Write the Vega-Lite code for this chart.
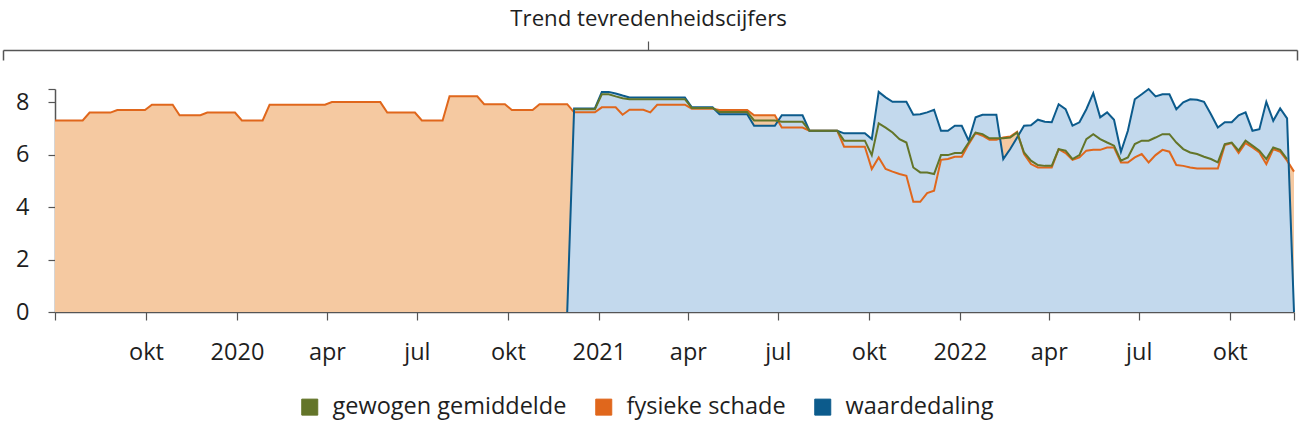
{
  "$schema": "https://vega.github.io/schema/vega-lite/v6.json",
  "padding": {"left": 2, "right": 3, "top": 7, "bottom": 2},
  "autosize": {"type": "pad"},
  "title": {"text": "Trend tevredenheidscijfers", "anchor": "middle", "dx": -27, "font": "Open Sans", "fontSize": 22.2, "fontWeight": "normal", "color": "#1e1e1e", "offset": 11},
  "columns": 1,
  "spacing": 24,
  "resolve": {"scale": {"color": "shared"}},
  "datasets": {
    "scores": [
      {"week": "2019-07-01", "fysieke schade": 7.3},
      {"week": "2019-07-08", "fysieke schade": 7.3},
      {"week": "2019-07-15", "fysieke schade": 7.3},
      {"week": "2019-07-22", "fysieke schade": 7.3},
      {"week": "2019-07-29", "fysieke schade": 7.3},
      {"week": "2019-08-05", "fysieke schade": 7.6},
      {"week": "2019-08-12", "fysieke schade": 7.6},
      {"week": "2019-08-19", "fysieke schade": 7.6},
      {"week": "2019-08-26", "fysieke schade": 7.6},
      {"week": "2019-09-02", "fysieke schade": 7.7},
      {"week": "2019-09-09", "fysieke schade": 7.7},
      {"week": "2019-09-16", "fysieke schade": 7.7},
      {"week": "2019-09-23", "fysieke schade": 7.7},
      {"week": "2019-09-30", "fysieke schade": 7.7},
      {"week": "2019-10-07", "fysieke schade": 7.9},
      {"week": "2019-10-14", "fysieke schade": 7.9},
      {"week": "2019-10-21", "fysieke schade": 7.9},
      {"week": "2019-10-28", "fysieke schade": 7.9},
      {"week": "2019-11-04", "fysieke schade": 7.5},
      {"week": "2019-11-11", "fysieke schade": 7.5},
      {"week": "2019-11-18", "fysieke schade": 7.5},
      {"week": "2019-11-25", "fysieke schade": 7.5},
      {"week": "2019-12-02", "fysieke schade": 7.6},
      {"week": "2019-12-09", "fysieke schade": 7.6},
      {"week": "2019-12-16", "fysieke schade": 7.6},
      {"week": "2019-12-23", "fysieke schade": 7.6},
      {"week": "2019-12-30", "fysieke schade": 7.6},
      {"week": "2020-01-06", "fysieke schade": 7.3},
      {"week": "2020-01-13", "fysieke schade": 7.3},
      {"week": "2020-01-20", "fysieke schade": 7.3},
      {"week": "2020-01-27", "fysieke schade": 7.3},
      {"week": "2020-02-03", "fysieke schade": 7.9},
      {"week": "2020-02-10", "fysieke schade": 7.9},
      {"week": "2020-02-17", "fysieke schade": 7.9},
      {"week": "2020-02-24", "fysieke schade": 7.9},
      {"week": "2020-03-02", "fysieke schade": 7.9},
      {"week": "2020-03-09", "fysieke schade": 7.9},
      {"week": "2020-03-16", "fysieke schade": 7.9},
      {"week": "2020-03-23", "fysieke schade": 7.9},
      {"week": "2020-03-30", "fysieke schade": 7.9},
      {"week": "2020-04-06", "fysieke schade": 8.0},
      {"week": "2020-04-13", "fysieke schade": 8.0},
      {"week": "2020-04-20", "fysieke schade": 8.0},
      {"week": "2020-04-27", "fysieke schade": 8.0},
      {"week": "2020-05-04", "fysieke schade": 8.0},
      {"week": "2020-05-11", "fysieke schade": 8.0},
      {"week": "2020-05-18", "fysieke schade": 8.0},
      {"week": "2020-05-25", "fysieke schade": 8.0},
      {"week": "2020-06-01", "fysieke schade": 7.6},
      {"week": "2020-06-08", "fysieke schade": 7.6},
      {"week": "2020-06-15", "fysieke schade": 7.6},
      {"week": "2020-06-22", "fysieke schade": 7.6},
      {"week": "2020-06-29", "fysieke schade": 7.6},
      {"week": "2020-07-06", "fysieke schade": 7.3},
      {"week": "2020-07-13", "fysieke schade": 7.3},
      {"week": "2020-07-20", "fysieke schade": 7.3},
      {"week": "2020-07-27", "fysieke schade": 7.3},
      {"week": "2020-08-03", "fysieke schade": 8.22},
      {"week": "2020-08-10", "fysieke schade": 8.22},
      {"week": "2020-08-17", "fysieke schade": 8.22},
      {"week": "2020-08-24", "fysieke schade": 8.22},
      {"week": "2020-08-31", "fysieke schade": 8.22},
      {"week": "2020-09-07", "fysieke schade": 7.92},
      {"week": "2020-09-14", "fysieke schade": 7.92},
      {"week": "2020-09-21", "fysieke schade": 7.92},
      {"week": "2020-09-28", "fysieke schade": 7.92},
      {"week": "2020-10-05", "fysieke schade": 7.7},
      {"week": "2020-10-12", "fysieke schade": 7.7},
      {"week": "2020-10-19", "fysieke schade": 7.7},
      {"week": "2020-10-26", "fysieke schade": 7.7},
      {"week": "2020-11-02", "fysieke schade": 7.92},
      {"week": "2020-11-09", "fysieke schade": 7.92},
      {"week": "2020-11-16", "fysieke schade": 7.92},
      {"week": "2020-11-23", "fysieke schade": 7.92},
      {"week": "2020-11-30", "fysieke schade": 7.92, "waardedaling": 0},
      {"week": "2020-12-07", "gewogen gemiddelde": 7.73, "fysieke schade": 7.61, "waardedaling": 7.76},
      {"week": "2020-12-14", "gewogen gemiddelde": 7.73, "fysieke schade": 7.61, "waardedaling": 7.76},
      {"week": "2020-12-21", "gewogen gemiddelde": 7.73, "fysieke schade": 7.61, "waardedaling": 7.76},
      {"week": "2020-12-28", "gewogen gemiddelde": 7.73, "fysieke schade": 7.61, "waardedaling": 7.76},
      {"week": "2021-01-04", "gewogen gemiddelde": 8.3, "fysieke schade": 7.8, "waardedaling": 8.39},
      {"week": "2021-01-11", "gewogen gemiddelde": 8.3, "fysieke schade": 7.8, "waardedaling": 8.39},
      {"week": "2021-01-18", "gewogen gemiddelde": 8.22, "fysieke schade": 7.8, "waardedaling": 8.33},
      {"week": "2021-01-25", "gewogen gemiddelde": 8.15, "fysieke schade": 7.52, "waardedaling": 8.25},
      {"week": "2021-02-01", "gewogen gemiddelde": 8.11, "fysieke schade": 7.71, "waardedaling": 8.18},
      {"week": "2021-02-08", "gewogen gemiddelde": 8.11, "fysieke schade": 7.71, "waardedaling": 8.18},
      {"week": "2021-02-15", "gewogen gemiddelde": 8.11, "fysieke schade": 7.71, "waardedaling": 8.18},
      {"week": "2021-02-22", "gewogen gemiddelde": 8.11, "fysieke schade": 7.61, "waardedaling": 8.18},
      {"week": "2021-03-01", "gewogen gemiddelde": 8.11, "fysieke schade": 7.9, "waardedaling": 8.18},
      {"week": "2021-03-08", "gewogen gemiddelde": 8.11, "fysieke schade": 7.9, "waardedaling": 8.18},
      {"week": "2021-03-15", "gewogen gemiddelde": 8.11, "fysieke schade": 7.9, "waardedaling": 8.18},
      {"week": "2021-03-22", "gewogen gemiddelde": 8.11, "fysieke schade": 7.9, "waardedaling": 8.18},
      {"week": "2021-03-29", "gewogen gemiddelde": 8.11, "fysieke schade": 7.9, "waardedaling": 8.18},
      {"week": "2021-04-05", "gewogen gemiddelde": 7.78, "fysieke schade": 7.75, "waardedaling": 7.8},
      {"week": "2021-04-12", "gewogen gemiddelde": 7.78, "fysieke schade": 7.75, "waardedaling": 7.8},
      {"week": "2021-04-19", "gewogen gemiddelde": 7.78, "fysieke schade": 7.75, "waardedaling": 7.8},
      {"week": "2021-04-26", "gewogen gemiddelde": 7.78, "fysieke schade": 7.75, "waardedaling": 7.8},
      {"week": "2021-05-03", "gewogen gemiddelde": 7.62, "fysieke schade": 7.7, "waardedaling": 7.54},
      {"week": "2021-05-10", "gewogen gemiddelde": 7.62, "fysieke schade": 7.7, "waardedaling": 7.54},
      {"week": "2021-05-17", "gewogen gemiddelde": 7.62, "fysieke schade": 7.7, "waardedaling": 7.54},
      {"week": "2021-05-24", "gewogen gemiddelde": 7.62, "fysieke schade": 7.7, "waardedaling": 7.54},
      {"week": "2021-05-31", "gewogen gemiddelde": 7.62, "fysieke schade": 7.7, "waardedaling": 7.54},
      {"week": "2021-06-07", "gewogen gemiddelde": 7.3, "fysieke schade": 7.5, "waardedaling": 7.1},
      {"week": "2021-06-14", "gewogen gemiddelde": 7.3, "fysieke schade": 7.5, "waardedaling": 7.1},
      {"week": "2021-06-21", "gewogen gemiddelde": 7.3, "fysieke schade": 7.5, "waardedaling": 7.1},
      {"week": "2021-06-28", "gewogen gemiddelde": 7.3, "fysieke schade": 7.5, "waardedaling": 7.1},
      {"week": "2021-07-05", "gewogen gemiddelde": 7.25, "fysieke schade": 7.03, "waardedaling": 7.5},
      {"week": "2021-07-12", "gewogen gemiddelde": 7.25, "fysieke schade": 7.03, "waardedaling": 7.5},
      {"week": "2021-07-19", "gewogen gemiddelde": 7.25, "fysieke schade": 7.03, "waardedaling": 7.5},
      {"week": "2021-07-26", "gewogen gemiddelde": 7.25, "fysieke schade": 7.03, "waardedaling": 7.5},
      {"week": "2021-08-02", "gewogen gemiddelde": 6.91, "fysieke schade": 6.91, "waardedaling": 6.91},
      {"week": "2021-08-09", "gewogen gemiddelde": 6.91, "fysieke schade": 6.91, "waardedaling": 6.91},
      {"week": "2021-08-16", "gewogen gemiddelde": 6.91, "fysieke schade": 6.91, "waardedaling": 6.91},
      {"week": "2021-08-23", "gewogen gemiddelde": 6.91, "fysieke schade": 6.91, "waardedaling": 6.91},
      {"week": "2021-08-30", "gewogen gemiddelde": 6.91, "fysieke schade": 6.91, "waardedaling": 6.91},
      {"week": "2021-09-06", "gewogen gemiddelde": 6.53, "fysieke schade": 6.3, "waardedaling": 6.81},
      {"week": "2021-09-13", "gewogen gemiddelde": 6.53, "fysieke schade": 6.3, "waardedaling": 6.81},
      {"week": "2021-09-20", "gewogen gemiddelde": 6.53, "fysieke schade": 6.3, "waardedaling": 6.81},
      {"week": "2021-09-27", "gewogen gemiddelde": 6.53, "fysieke schade": 6.3, "waardedaling": 6.81},
      {"week": "2021-10-04", "gewogen gemiddelde": 5.98, "fysieke schade": 5.45, "waardedaling": 6.59},
      {"week": "2021-10-11", "gewogen gemiddelde": 7.19, "fysieke schade": 5.89, "waardedaling": 8.39},
      {"week": "2021-10-18", "gewogen gemiddelde": 7.03, "fysieke schade": 5.45, "waardedaling": 8.18},
      {"week": "2021-10-25", "gewogen gemiddelde": 6.84, "fysieke schade": 5.35, "waardedaling": 8.01},
      {"week": "2021-11-01", "gewogen gemiddelde": 6.59, "fysieke schade": 5.26, "waardedaling": 8.01},
      {"week": "2021-11-08", "gewogen gemiddelde": 6.46, "fysieke schade": 5.19, "waardedaling": 8.01},
      {"week": "2021-11-15", "gewogen gemiddelde": 5.51, "fysieke schade": 4.2, "waardedaling": 7.52},
      {"week": "2021-11-22", "gewogen gemiddelde": 5.32, "fysieke schade": 4.2, "waardedaling": 7.54},
      {"week": "2021-11-29", "gewogen gemiddelde": 5.32, "fysieke schade": 4.53, "waardedaling": 7.61},
      {"week": "2021-12-06", "gewogen gemiddelde": 5.26, "fysieke schade": 4.62, "waardedaling": 7.71},
      {"week": "2021-12-13", "gewogen gemiddelde": 5.98, "fysieke schade": 5.8, "waardedaling": 6.91},
      {"week": "2021-12-20", "gewogen gemiddelde": 5.98, "fysieke schade": 5.83, "waardedaling": 6.91},
      {"week": "2021-12-27", "gewogen gemiddelde": 6.06, "fysieke schade": 5.92, "waardedaling": 7.1},
      {"week": "2022-01-03", "gewogen gemiddelde": 6.06, "fysieke schade": 5.92, "waardedaling": 7.1},
      {"week": "2022-01-10", "gewogen gemiddelde": 6.46, "fysieke schade": 6.4, "waardedaling": 6.53},
      {"week": "2022-01-17", "gewogen gemiddelde": 6.84, "fysieke schade": 6.82, "waardedaling": 7.42},
      {"week": "2022-01-24", "gewogen gemiddelde": 6.78, "fysieke schade": 6.72, "waardedaling": 7.52},
      {"week": "2022-01-31", "gewogen gemiddelde": 6.62, "fysieke schade": 6.57, "waardedaling": 7.52},
      {"week": "2022-02-07", "gewogen gemiddelde": 6.62, "fysieke schade": 6.57, "waardedaling": 7.52},
      {"week": "2022-02-14", "gewogen gemiddelde": 6.62, "fysieke schade": 6.65, "waardedaling": 5.83},
      {"week": "2022-02-21", "gewogen gemiddelde": 6.65, "fysieke schade": 6.69, "waardedaling": 6.21},
      {"week": "2022-02-28", "gewogen gemiddelde": 6.84, "fysieke schade": 6.87, "waardedaling": 6.65},
      {"week": "2022-03-07", "gewogen gemiddelde": 6.08, "fysieke schade": 6.02, "waardedaling": 7.1},
      {"week": "2022-03-14", "gewogen gemiddelde": 5.77, "fysieke schade": 5.64, "waardedaling": 7.12},
      {"week": "2022-03-21", "gewogen gemiddelde": 5.6, "fysieke schade": 5.51, "waardedaling": 7.33},
      {"week": "2022-03-28", "gewogen gemiddelde": 5.57, "fysieke schade": 5.51, "waardedaling": 7.25},
      {"week": "2022-04-04", "gewogen gemiddelde": 5.57, "fysieke schade": 5.51, "waardedaling": 7.23},
      {"week": "2022-04-11", "gewogen gemiddelde": 6.21, "fysieke schade": 6.21, "waardedaling": 7.92},
      {"week": "2022-04-18", "gewogen gemiddelde": 6.15, "fysieke schade": 6.06, "waardedaling": 7.73},
      {"week": "2022-04-25", "gewogen gemiddelde": 5.83, "fysieke schade": 5.8, "waardedaling": 7.1},
      {"week": "2022-05-02", "gewogen gemiddelde": 5.98, "fysieke schade": 5.89, "waardedaling": 7.23},
      {"week": "2022-05-09", "gewogen gemiddelde": 6.59, "fysieke schade": 6.15, "waardedaling": 7.73},
      {"week": "2022-05-16", "gewogen gemiddelde": 6.78, "fysieke schade": 6.18, "waardedaling": 8.34},
      {"week": "2022-05-23", "gewogen gemiddelde": 6.59, "fysieke schade": 6.18, "waardedaling": 7.42},
      {"week": "2022-05-30", "gewogen gemiddelde": 6.46, "fysieke schade": 6.27, "waardedaling": 7.61},
      {"week": "2022-06-06", "gewogen gemiddelde": 6.34, "fysieke schade": 6.27, "waardedaling": 7.33},
      {"week": "2022-06-13", "gewogen gemiddelde": 5.77, "fysieke schade": 5.7, "waardedaling": 6.11},
      {"week": "2022-06-20", "gewogen gemiddelde": 5.89, "fysieke schade": 5.7, "waardedaling": 6.91},
      {"week": "2022-06-27", "gewogen gemiddelde": 6.4, "fysieke schade": 5.89, "waardedaling": 8.11},
      {"week": "2022-07-04", "gewogen gemiddelde": 6.53, "fysieke schade": 6.02, "waardedaling": 8.3},
      {"week": "2022-07-11", "gewogen gemiddelde": 6.53, "fysieke schade": 5.7, "waardedaling": 8.5},
      {"week": "2022-07-18", "gewogen gemiddelde": 6.65, "fysieke schade": 5.98, "waardedaling": 8.22},
      {"week": "2022-07-25", "gewogen gemiddelde": 6.78, "fysieke schade": 6.18, "waardedaling": 8.3},
      {"week": "2022-08-01", "gewogen gemiddelde": 6.78, "fysieke schade": 6.11, "waardedaling": 8.3},
      {"week": "2022-08-08", "gewogen gemiddelde": 6.46, "fysieke schade": 5.6, "waardedaling": 7.73},
      {"week": "2022-08-15", "gewogen gemiddelde": 6.21, "fysieke schade": 5.57, "waardedaling": 7.99},
      {"week": "2022-08-22", "gewogen gemiddelde": 6.08, "fysieke schade": 5.51, "waardedaling": 8.11},
      {"week": "2022-08-29", "gewogen gemiddelde": 6.02, "fysieke schade": 5.47, "waardedaling": 8.09},
      {"week": "2022-09-05", "gewogen gemiddelde": 5.92, "fysieke schade": 5.47, "waardedaling": 8.01},
      {"week": "2022-09-12", "gewogen gemiddelde": 5.83, "fysieke schade": 5.47, "waardedaling": 7.54},
      {"week": "2022-09-19", "gewogen gemiddelde": 5.7, "fysieke schade": 5.47, "waardedaling": 7.03},
      {"week": "2022-09-26", "gewogen gemiddelde": 6.4, "fysieke schade": 6.36, "waardedaling": 7.23},
      {"week": "2022-10-03", "gewogen gemiddelde": 6.46, "fysieke schade": 6.44, "waardedaling": 7.23},
      {"week": "2022-10-10", "gewogen gemiddelde": 6.15, "fysieke schade": 6.06, "waardedaling": 7.5},
      {"week": "2022-10-17", "gewogen gemiddelde": 6.53, "fysieke schade": 6.44, "waardedaling": 7.61},
      {"week": "2022-10-24", "gewogen gemiddelde": 6.34, "fysieke schade": 6.27, "waardedaling": 6.91},
      {"week": "2022-10-31", "gewogen gemiddelde": 6.15, "fysieke schade": 6.08, "waardedaling": 6.97},
      {"week": "2022-11-07", "gewogen gemiddelde": 5.83, "fysieke schade": 5.64, "waardedaling": 8.01},
      {"week": "2022-11-14", "gewogen gemiddelde": 6.27, "fysieke schade": 6.21, "waardedaling": 7.29},
      {"week": "2022-11-21", "gewogen gemiddelde": 6.18, "fysieke schade": 6.11, "waardedaling": 7.76},
      {"week": "2022-11-28", "gewogen gemiddelde": 5.83, "fysieke schade": 5.77, "waardedaling": 7.38},
      {"week": "2022-12-05", "fysieke schade": 5.35, "waardedaling": 0}
    ]
  },
  "concat": [
    {
      "width": 1242,
      "height": 9,
      "data": {"values": []},
      "mark": {"type": "point", "opacity": 0},
      "encoding": {
        "x": {
          "field": "p", "type": "quantitative",
          "scale": {"domain": [0, 1], "range": [-52, 1242], "nice": false, "zero": false},
          "axis": {"orient": "bottom", "values": [0, 1], "labels": false, "title": null, "grid": false, "tickSize": 10, "tickWidth": 1.5, "domainWidth": 1.5, "domainColor": "#555555", "tickColor": "#555555"}
        },
        "y": {
          "field": "q", "type": "quantitative",
          "scale": {"domain": [0, 1], "nice": false, "zero": false},
          "axis": {"orient": "left", "offset": -593, "ticks": false, "labels": false, "title": null, "grid": false, "domainWidth": 1.2, "domainColor": "#555555", "minExtent": 0, "maxExtent": 0}
        }
      }
    },
    {
      "width": 1239,
      "height": 223,
      "data": {"name": "scores"},
      "transform": [
        {"fold": ["gewogen gemiddelde", "fysieke schade", "waardedaling"], "as": ["reeks", "cijfer"]},
        {"filter": "isValid(datum.cijfer)"}
      ],
      "encoding": {
        "x": {
          "field": "week", "type": "temporal",
          "scale": {"type": "utc", "nice": false},
          "axis": {
            "title": null, "grid": false,
            "values": [
              {"year": 2019, "month": 7, "date": 1, "utc": true},
              {"year": 2019, "month": 10, "date": 1, "utc": true},
              {"year": 2020, "month": 1, "date": 1, "utc": true},
              {"year": 2020, "month": 4, "date": 1, "utc": true},
              {"year": 2020, "month": 7, "date": 1, "utc": true},
              {"year": 2020, "month": 10, "date": 1, "utc": true},
              {"year": 2021, "month": 1, "date": 1, "utc": true},
              {"year": 2021, "month": 4, "date": 1, "utc": true},
              {"year": 2021, "month": 7, "date": 1, "utc": true},
              {"year": 2021, "month": 10, "date": 1, "utc": true},
              {"year": 2022, "month": 1, "date": 1, "utc": true},
              {"year": 2022, "month": 4, "date": 1, "utc": true},
              {"year": 2022, "month": 7, "date": 1, "utc": true},
              {"year": 2022, "month": 10, "date": 1, "utc": true},
              {"year": 2022, "month": 12, "date": 5, "utc": true}
            ],
            "labelExpr": "(datum.value < utc(2019, 7, 1) || datum.value > utc(2022, 11, 1)) ? '' : (utcmonth(datum.value) == 0 ? '' + utcyear(datum.value) : ['jan','feb','mrt','apr','mei','jun','jul','aug','sep','okt','nov','dec'][utcmonth(datum.value)])",
            "labelFontSize": 23.5, "labelColor": "#1e1e1e", "labelPadding": 20, "labelOverlap": false, "labelFlush": false,
            "tickSize": 8, "tickWidth": 1.2, "tickColor": "#555555", "domainColor": "#555555", "domainWidth": 1.5
          }
        },
        "y": {
          "field": "cijfer", "type": "quantitative",
          "scale": {"domain": [0, 8.5], "nice": false, "zero": true},
          "axis": {
            "title": null, "grid": false,
            "values": [0, 2, 4, 6, 8, 8.5],
            "labelExpr": "datum.value > 8 ? '' : datum.label",
            "labelFontSize": 23.5, "labelColor": "#1e1e1e", "labelPadding": 19,
            "tickSize": 7, "tickWidth": 1.2, "tickColor": "#555555", "domainColor": "#555555", "domainWidth": 1.5,
            "minExtent": 52, "maxExtent": 52
          }
        }
      },
      "layer": [
        {
          "transform": [{"filter": "datum.reeks == 'fysieke schade'"}],
          "mark": {"type": "area", "color": "#f5c9a1", "opacity": 1}
        },
        {
          "transform": [{"filter": "datum.reeks == 'waardedaling'"}],
          "mark": {"type": "area", "color": "#c3d9ed", "opacity": 1}
        },
        {
          "mark": {"type": "line", "strokeWidth": 2},
          "encoding": {
            "color": {
              "field": "reeks", "type": "nominal",
              "scale": {"domain": ["gewogen gemiddelde", "fysieke schade", "waardedaling"], "range": ["#637529", "#e0671c", "#0c5b8c"]},
              "legend": {
                "title": null, "orient": "none", "legendX": 243, "legendY": 354, "direction": "horizontal",
                "symbolType": "square", "symbolSize": 256, "symbolStrokeWidth": 1,
                "labelFontSize": 23.5, "labelColor": "#1e1e1e", "labelOffset": 11, "columnPadding": 25, "labelLimit": 400,
                "encode": {"symbols": {"update": {"fill": {"scale": "color", "field": "value"}, "fillOpacity": {"value": 1}, "opacity": {"value": 1}}}}
              }
            }
          }
        }
      ]
    }
  ],
  "config": {
    "font": "Open Sans",
    "view": {"stroke": null}
  }
}
